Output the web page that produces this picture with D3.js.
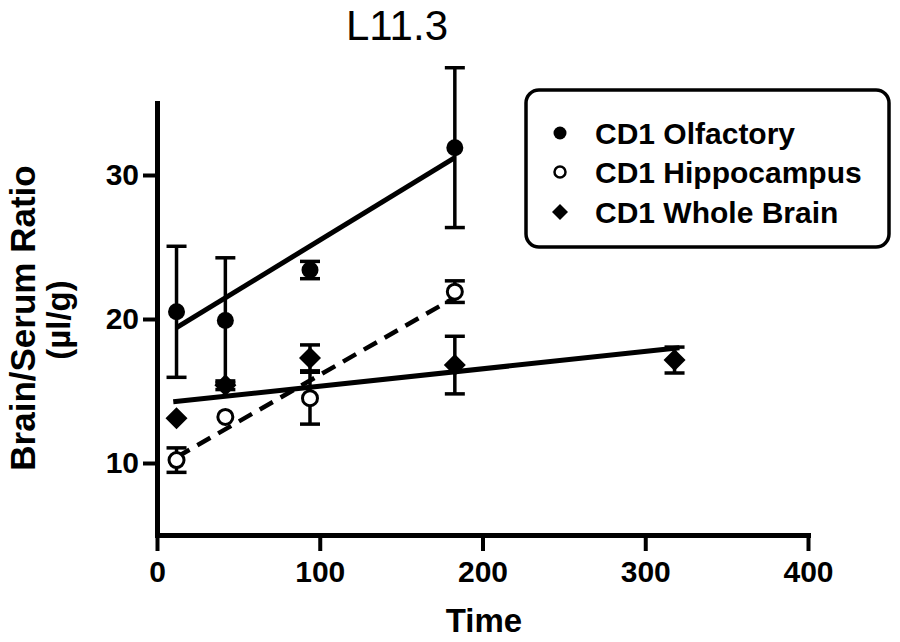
<!DOCTYPE html>
<html>
<head>
<meta charset="utf-8">
<script src="https://cdn.jsdelivr.net/npm/d3@7"></script>
<style>
  html, body { margin: 0; padding: 0; background: #fff; }
  svg { display: block; }
</style>
</head>
<body>
<svg id="chart" width="900" height="642"></svg>
<script>
// ---- data ----
const title = "L11.3";
const xTicks = [0, 100, 200, 300, 400];
const yTicks = [10, 20, 30];

const olfTime = [12, 42, 94, 183];
const olfMean = [20.5, 19.9, 23.4, 31.9];
const olfErr  = [4.55, 4.35, 0.6, 5.55];

const hipTime = [12, 42, 94, 183];
const hipMean = [10.2, 13.2, 14.5, 21.9];
const hipErr  = [0.85, 0, 1.8, 0.75];

const wbTime = [12, 42, 94, 183, 318];
const wbMean = [13.1, 15.4, 17.3, 16.8, 17.15];
const wbErr  = [0, 0.3, 0.9, 2.0, 0.9];

// fitted lines (end points)
const olfFitX = [12, 183], olfFitY = [19.4, 31.2];
const hipFitX = [12, 183], hipFitY = [10.4, 21.5];
const wbFitX  = [10, 321], wbFitY  = [14.25, 18.0];

const legendLabels = ["CD1 Olfactory", "CD1 Hippocampus", "CD1 Whole Brain"];

// ---- drawing ----
const svg = d3.select("#chart");
const FONT = "'Liberation Sans', Arial, Helvetica, sans-serif";

const x = d3.scaleLinear().domain([0, 400]).range([157, 808]);
const y = d3.scaleLinear().domain([5, 35]).range([535, 103]);

// title
svg.append("text")
  .attr("x", 397).attr("y", 40)
  .attr("text-anchor", "middle")
  .style("font-family", FONT).style("font-size", "42px")
  .text(title);

// axes
const xAxis = svg.append("g")
  .attr("transform", `translate(0,${y(5)})`)
  .call(d3.axisBottom(x).tickValues(xTicks).tickSize(16).tickSizeOuter(0).tickPadding(10));
const yAxis = svg.append("g")
  .attr("transform", `translate(${x(0)},0)`)
  .call(d3.axisLeft(y).tickValues(yTicks).tickSize(14).tickSizeOuter(0).tickPadding(4));

[xAxis, yAxis].forEach(g => {
  g.select(".domain").attr("stroke", "#000").attr("stroke-width", 5);
  g.selectAll(".tick line").attr("stroke", "#000").attr("stroke-width", 4);
  g.selectAll(".tick text")
    .attr("fill", "#000")
    .style("font-family", FONT).style("font-size", "30px").style("font-weight", "bold");
});
// extend x domain line to meet y axis cleanly
xAxis.select(".domain").attr("stroke-linecap", "square");
yAxis.select(".domain").attr("stroke-linecap", "square");

// axis titles
svg.append("text")
  .attr("x", 484).attr("y", 632)
  .attr("text-anchor", "middle")
  .style("font-family", FONT).style("font-size", "33px").style("font-weight", "bold")
  .text("Time");

svg.append("text")
  .attr("transform", "translate(35,318) rotate(-90)")
  .attr("text-anchor", "middle")
  .style("font-family", FONT).style("font-size", "35px").style("font-weight", "bold")
  .text("Brain/Serum Ratio");
svg.append("text")
  .attr("transform", "translate(70,320) rotate(-90)")
  .attr("text-anchor", "middle")
  .style("font-family", FONT).style("font-size", "33px").style("font-weight", "bold")
  .text("(µl/g)");

// fit lines
const line = d3.line().x(d => x(d[0])).y(d => y(d[1]));
function fit(xs, ys, dash) {
  svg.append("path")
    .datum(xs.map((v, i) => [v, ys[i]]))
    .attr("d", line)
    .attr("fill", "none")
    .attr("stroke", "#000")
    .attr("stroke-width", dash ? 4.5 : 5)
    .attr("stroke-dasharray", dash ? "15,9" : null);
}
fit(olfFitX, olfFitY, false);
fit(hipFitX, hipFitY, true);
fit(wbFitX, wbFitY, false);

// error bars
function errorBars(ts, ms, es) {
  const g = svg.append("g").attr("stroke", "#000").attr("stroke-width", 3.5);
  ts.forEach((t, i) => {
    if (!es[i]) return;
    const cx = x(t), top = y(ms[i] + es[i]), bot = y(ms[i] - es[i]);
    g.append("line").attr("x1", cx).attr("x2", cx).attr("y1", top).attr("y2", bot);
    g.append("line").attr("x1", cx - 10).attr("x2", cx + 10).attr("y1", top).attr("y2", top);
    g.append("line").attr("x1", cx - 10).attr("x2", cx + 10).attr("y1", bot).attr("y2", bot);
  });
}
errorBars(olfTime, olfMean, olfErr);
errorBars(hipTime, hipMean, hipErr);
errorBars(wbTime, wbMean, wbErr);

// markers
const diamond = s => `M0,${-s}L${s},0L0,${s}L${-s},0Z`;
svg.append("g").selectAll("circle").data(olfTime).join("circle")
  .attr("cx", d => x(d)).attr("cy", (d, i) => y(olfMean[i]))
  .attr("r", 8.5).attr("fill", "#000");
svg.append("g").selectAll("circle").data(hipTime).join("circle")
  .attr("cx", d => x(d)).attr("cy", (d, i) => y(hipMean[i]))
  .attr("r", 7.5).attr("fill", "#fff").attr("stroke", "#000").attr("stroke-width", 3);
svg.append("g").selectAll("path").data(wbTime).join("path")
  .attr("transform", (d, i) => `translate(${x(d)},${y(wbMean[i])})`)
  .attr("d", diamond(11)).attr("fill", "#000");

// legend
const lg = svg.append("g");
lg.append("rect")
  .attr("x", 526).attr("y", 90).attr("width", 363).attr("height", 157)
  .attr("rx", 13).attr("ry", 13)
  .attr("fill", "#fff").attr("stroke", "#000").attr("stroke-width", 3.5);
const rowY = [133, 172, 212];
legendLabels.forEach((lab, i) => {
  const cy = rowY[i];
  if (i === 0) lg.append("circle").attr("cx", 560).attr("cy", cy).attr("r", 6.5).attr("fill", "#000");
  if (i === 1) lg.append("circle").attr("cx", 560).attr("cy", cy).attr("r", 5.5)
                .attr("fill", "#fff").attr("stroke", "#000").attr("stroke-width", 2.5);
  if (i === 2) lg.append("path").attr("transform", `translate(560,${cy})`).attr("d", diamond(8)).attr("fill", "#000");
  lg.append("text")
    .attr("x", 595).attr("y", cy + 10.5)
    .style("font-family", FONT).style("font-size", "30px").style("font-weight", "bold")
    .text(lab);
});
</script>
</body>
</html>
